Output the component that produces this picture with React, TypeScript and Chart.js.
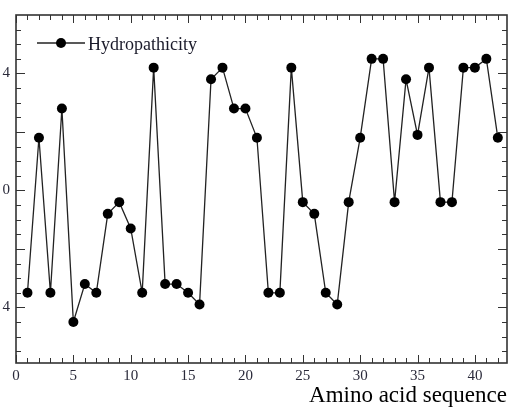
import React, { useEffect, useRef } from "react";
import { Chart, registerables } from "chart.js";

Chart.register(...registerables);

const positions: number[] = [
  1, 2, 3, 4, 5, 6, 7, 8, 9, 10, 11, 12, 13, 14, 15, 16, 17, 18, 19, 20, 21,
  22, 23, 24, 25, 26, 27, 28, 29, 30, 31, 32, 33, 34, 35, 36, 37, 38, 39, 40, 41, 42,
];
const hydropathicity: number[] = [
  -3.5, 1.8, -3.5, 2.8, -4.5, -3.2, -3.5, -0.8, -0.4, -1.3, -3.5, 4.2, -3.2, -3.2,
  -3.5, -3.9, 3.8, 4.2, 2.8, 2.8, 1.8, -3.5, -3.5, 4.2, -0.4, -0.8, -3.5, -3.9,
  -0.4, 1.8, 4.5, 4.5, -0.4, 3.8, 1.9, 4.2, -0.4, -0.4, 4.2, 4.2, 4.5, 1.8,
];
const seriesName = "Hydropathicity";
const xTitle = "Amino acid sequence";
const xTickValues: number[] = [0, 5, 10, 15, 20, 25, 30, 35, 40];
const yTickValues: number[] = [-4, 0, 4];
const yTickLabels: string[] = ["4", "0", "4"];
const xRange: number[] = [0, 42.8];
const yRange: number[] = [-5.9, 6];

const INK = "#222";
const AXIS = "#333";

const frameAndLegend = {
  id: "frameAndLegend",
  afterDatasetsDraw(chart: any) {
    const { ctx, chartArea, scales } = chart;
    const { left, right, top, bottom } = chartArea;
    const xs = scales.x;
    const ys = scales.y;
    ctx.save();
    ctx.strokeStyle = AXIS;
    ctx.lineWidth = 1;
    ctx.beginPath();
    for (let v = Math.ceil(xs.min); v <= xs.max; v += 1) {
      const px = Math.round(xs.getPixelForValue(v)) + 0.5;
      const len = v % 5 === 0 ? 8 : 5;
      ctx.moveTo(px, bottom);
      ctx.lineTo(px, bottom - len);
      ctx.moveTo(px, top);
      ctx.lineTo(px, top + len);
    }
    for (let v = -5.5; v <= 5.5 + 1e-9; v += 0.5) {
      if (v < ys.min || v > ys.max) continue;
      const py = Math.round(ys.getPixelForValue(v)) + 0.5;
      const len = Math.abs(v % 2) < 1e-9 ? 9 : 5;
      ctx.moveTo(left, py);
      ctx.lineTo(left + len, py);
      ctx.moveTo(right, py);
      ctx.lineTo(right - len, py);
    }
    ctx.stroke();
    ctx.lineWidth = 1.6;
    ctx.strokeRect(left, top, right - left, bottom - top);

    const ly = top + 28;
    const lx0 = left + 21;
    const lx1 = left + 69;
    ctx.strokeStyle = INK;
    ctx.lineWidth = 1.3;
    ctx.beginPath();
    ctx.moveTo(lx0, ly);
    ctx.lineTo(lx1, ly);
    ctx.stroke();
    ctx.fillStyle = "#000";
    ctx.beginPath();
    ctx.arc((lx0 + lx1) / 2, ly, 5, 0, Math.PI * 2);
    ctx.fill();
    ctx.font = "18px 'Liberation Serif', 'DejaVu Serif', serif";
    ctx.textAlign = "left";
    ctx.textBaseline = "alphabetic";
    ctx.fillStyle = "#1a1a2a";
    ctx.fillText(seriesName, lx1 + 3, ly + 7);
    ctx.restore();
  },
};

export default function App() {
  const ref = useRef<HTMLCanvasElement | null>(null);
  useEffect(() => {
    if (!ref.current) return;
    const chart = new Chart(ref.current, {
      type: "line",
      data: {
        datasets: [
          {
            label: seriesName,
            data: positions.map((x, i) => ({ x, y: hydropathicity[i] })),
            borderColor: INK,
            borderWidth: 1.3,
            backgroundColor: "#000",
            pointBackgroundColor: "#000",
            pointBorderColor: "#000",
            pointRadius: 5,
            pointBorderWidth: 0,
            tension: 0,
          },
        ],
      },
      options: {
        responsive: false,
        animation: false,
        layout: { padding: { top: 15, right: 5, left: 0, bottom: 0 } },
        plugins: {
          legend: { display: false },
          tooltip: { enabled: false },
        },
        scales: {
          x: {
            type: "linear",
            min: xRange[0],
            max: xRange[1],
            afterBuildTicks: (s: any) => {
              s.ticks = xTickValues.map((v) => ({ value: v }));
            },
            afterFit: (s: any) => {
              s.height = 44;
            },
            grid: { display: false, drawTicks: false },
            border: { display: false },
            ticks: {
              padding: 4,
              color: "#2a2a3a",
              font: { family: "'Liberation Serif', serif", size: 15 },
              maxRotation: 0,
              autoSkip: false,
            },
            title: {
              display: true,
              text: xTitle,
              align: "end",
              color: "#000",
              font: { family: "'Liberation Serif', serif", size: 23, lineHeight: 1.0 },
              padding: { top: 0, bottom: 0 },
            },
          },
          y: {
            type: "linear",
            min: yRange[0],
            max: yRange[1],
            afterBuildTicks: (s: any) => {
              s.ticks = yTickValues.map((v) => ({ value: v }));
            },
            afterFit: (s: any) => {
              s.width = 16;
            },
            grid: { display: false, drawTicks: false },
            border: { display: false },
            ticks: {
              padding: 6,
              color: "#2a2a3a",
              font: { family: "'Liberation Serif', serif", size: 15 },
              callback: (v: any) => {
                const i = yTickValues.indexOf(Number(v));
                return i >= 0 ? yTickLabels[i] : "";
              },
            },
          },
        },
      },
      plugins: [frameAndLegend],
    } as any);
    return () => chart.destroy();
  }, []);
  return (
    <div style={{ position: "absolute", left: 0, top: 0, width: 512, height: 407, background: "#fff" }}>
      <canvas ref={ref} width={512} height={407} />
    </div>
  );
}
